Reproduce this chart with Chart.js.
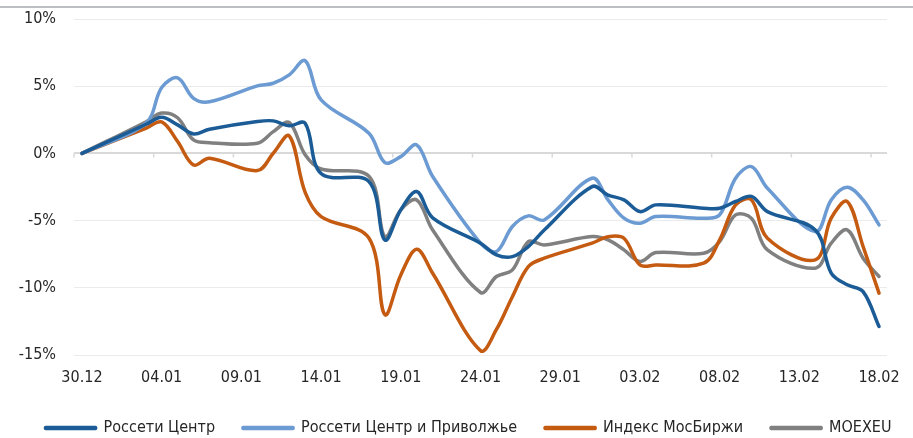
<!DOCTYPE html>
<html>
<head>
<meta charset="utf-8">
<script src="https://cdn.jsdelivr.net/npm/chart.js@4.4.1/dist/chart.umd.min.js"></script>
<style>
  html, body { margin: 0; padding: 0; background: #fff; }
</style>
</head>
<body>
<canvas id="chart" width="913" height="438"></canvas>
<script>
// trading days, 30.12 -> 18.02
const dates = ['30.12', '03.01', '04.01', '05.01', '06.01', '07.01', '10.01', '11.01', '12.01', '13.01',
  '14.01', '17.01', '18.01', '19.01', '20.01', '21.01', '24.01', '25.01', '26.01', '27.01', '28.01',
  '31.01', '01.02', '02.02', '03.02', '04.02', '07.02', '08.02', '09.02', '10.02', '11.02',
  '14.02', '15.02', '16.02', '17.02', '18.02'];

const tickLabels = ['30.12', '04.01', '09.01', '14.01', '19.01', '24.01', '29.01', '03.02', '08.02', '13.02', '18.02'];

// change since 30.12, %
const rossetiCenter = [0, 2.15, 2.69, 2.12, 1.45, 1.8, 2.37, 2.42, 2.05, 2.25,
  -1.5, -2.1, -6.44, -4.2, -2.84, -4.8, -6.68, -7.55, -7.68, -6.93, -5.7,
  -2.47, -3.1, -3.46, -4.33, -3.83, -4.08, -4.08, -3.58, -3.2, -4.33,
  -5.7, -8.9, -9.78, -10.28, -12.88];

const rossetiVolga = [0, 2.24, 4.9, 5.62, 4.1, 3.84, 5.02, 5.22, 5.84, 6.9,
  3.98, 1.5, -0.68, -0.24, 0.63, -1.72, -6.68, -7.3, -5.44, -4.65, -4.95,
  -1.85, -3.46, -4.82, -5.2, -4.7, -4.82, -4.58, -1.85, -0.98, -2.59,
  -5.82, -3.46, -2.52, -3.46, -5.32];

const moexIndex = [0, 1.87, 2.34, 0.88, -0.86, -0.36, -1.28, 0.01, 1.3, -2.9,
  -4.7, -6.3, -12.0, -9.04, -7.13, -8.92, -14.67, -13.1, -10.66, -8.42, -7.8,
  -6.68, -6.2, -6.31, -8.3, -8.3, -8.17, -6.44, -3.83, -3.46, -6.31,
  -7.92, -4.82, -3.58, -6.93, -10.4];

const moexeu = [0, 2.34, 3.0, 2.65, 1.0, 0.8, 0.76, 1.62, 2.3, -0.1,
  -1.16, -1.7, -6.2, -4.2, -3.46, -5.7, -10.35, -9.16, -8.67, -6.56, -6.81,
  -6.19, -6.44, -7.18, -8.05, -7.38, -7.43, -6.56, -4.58, -4.83, -7.18,
  -8.54, -6.68, -5.69, -7.8, -9.16];

const FONT = "'DejaVu Sans Condensed', 'Liberation Sans Narrow', Roboto, sans-serif";
const LEGEND_PAD = 28;
const LEGEND_FONT = 16;

const dayOf = (s) => {
  const [d, m] = s.split('.').map(Number);
  const y = m === 12 ? 2021 : 2022;
  return Math.round((Date.UTC(y, m - 1, d) - Date.UTC(2021, 11, 30)) / 86400000);
};
const days = dates.map(dayOf);
const points = (values) => values.map((v, i) => ({ x: days[i], y: v }));

const series = (label, values, color) => ({
  label,
  data: points(values),
  borderColor: color,
  backgroundColor: color,
  borderWidth: 3.5,
  tension: 0.35,
  pointRadius: 0,
  fill: false,
  borderJoinStyle: 'round',
  borderCapStyle: 'round',
});

// thin grey rule across the top
const topRule = {
  id: 'topRule',
  beforeDraw(chart) {
    const { ctx, width } = chart;
    ctx.save();
    ctx.strokeStyle = '#a7a9ac';
    ctx.lineWidth = 1.5;
    ctx.beginPath();
    ctx.moveTo(0, 7);
    ctx.lineTo(width, 7);
    ctx.stroke();
    ctx.restore();
  },
};

// small tick marks on the zero line, between the date labels
const zeroTicks = {
  id: 'zeroTicks',
  beforeDatasetsDraw(chart) {
    const { ctx, scales: { x, y } } = chart;
    const y0 = y.getPixelForValue(0);
    ctx.save();
    ctx.strokeStyle = '#d9d9d9';
    ctx.lineWidth = 1.5;
    ctx.beginPath();
    tickLabels.forEach((_, i) => {
      const px = x.getPixelForValue(i * 5 - 0.5);
      ctx.moveTo(px, y0);
      ctx.lineTo(px, y0 + 4);
    });
    ctx.stroke();
    ctx.restore();
  },
};

// push the legend a little lower and to the right, like the reference
const legendNudge = {
  id: 'legendNudge',
  afterLayout(chart) {
    if (chart.legend) {
      chart.legend.top += 8;
      chart.legend.bottom += 8;
      chart.legend.left += 12;
      chart.legend.right += 12;
    }
  },
};

new Chart(document.getElementById('chart'), {
  type: 'line',
  data: {
    datasets: [
      series('Россети Центр', rossetiCenter, '#1b5c97'),
      series('Россети Центр и Приволжье', rossetiVolga, '#6b9bd2'),
      series('Индекс МосБиржи', moexIndex, '#c55a11'),
      series('MOEXEU', moexeu, '#808080'),
    ],
  },
  options: {
    responsive: false,
    animation: false,
    layout: {
      padding: { top: 19, right: 0, bottom: 0, left: 0 },
    },
    plugins: {
      legend: {
        position: 'bottom',
        labels: {
          boxWidth: 50,
          boxHeight: 1,
          padding: LEGEND_PAD,
          color: '#262626',
          font: { family: FONT, size: LEGEND_FONT },
        },
      },
      tooltip: { enabled: false },
    },
    scales: {
      x: {
        type: 'linear',
        min: -0.5,
        max: 50.5,
        afterBuildTicks: (scale) => {
          scale.ticks = tickLabels.map((_, i) => ({ value: i * 5 }));
        },
        afterFit: (scale) => {
          scale.height = 438 - 355 - (LEGEND_FONT + LEGEND_PAD + 10);
        },
        ticks: {
          autoSkip: false,
          maxRotation: 0,
          padding: 0,
          color: '#262626',
          font: { family: FONT, size: 16 },
          callback: (v) => tickLabels[Math.round(v / 5)],
        },
        grid: {
          color: 'transparent',
          tickColor: 'transparent',
          tickLength: 13,
        },
        border: { display: false },
      },
      y: {
        min: -15,
        max: 10,
        afterFit: (scale) => {
          scale.width = 74;
        },
        ticks: {
          stepSize: 5,
          padding: 0,
          color: '#262626',
          font: { family: FONT, size: 16 },
          callback: (v) => v + '%',
        },
        grid: {
          tickLength: 18,
          tickColor: 'transparent',
          color: (c) => (c.tick && c.tick.value === 0 ? '#d9d9d9' : '#ebebeb'),
          lineWidth: (c) => (c.tick && c.tick.value === 0 ? 2 : 1),
        },
        border: { display: false },
      },
      // empty right margin so the plot ends where the reference does
      gutter: {
        position: 'right',
        display: true,
        afterFit: (scale) => {
          scale.width = 26;
        },
        ticks: { display: false },
        grid: { display: false },
        border: { display: false },
      },
    },
  },
  plugins: [topRule, zeroTicks, legendNudge],
});
</script>
</body>
</html>
